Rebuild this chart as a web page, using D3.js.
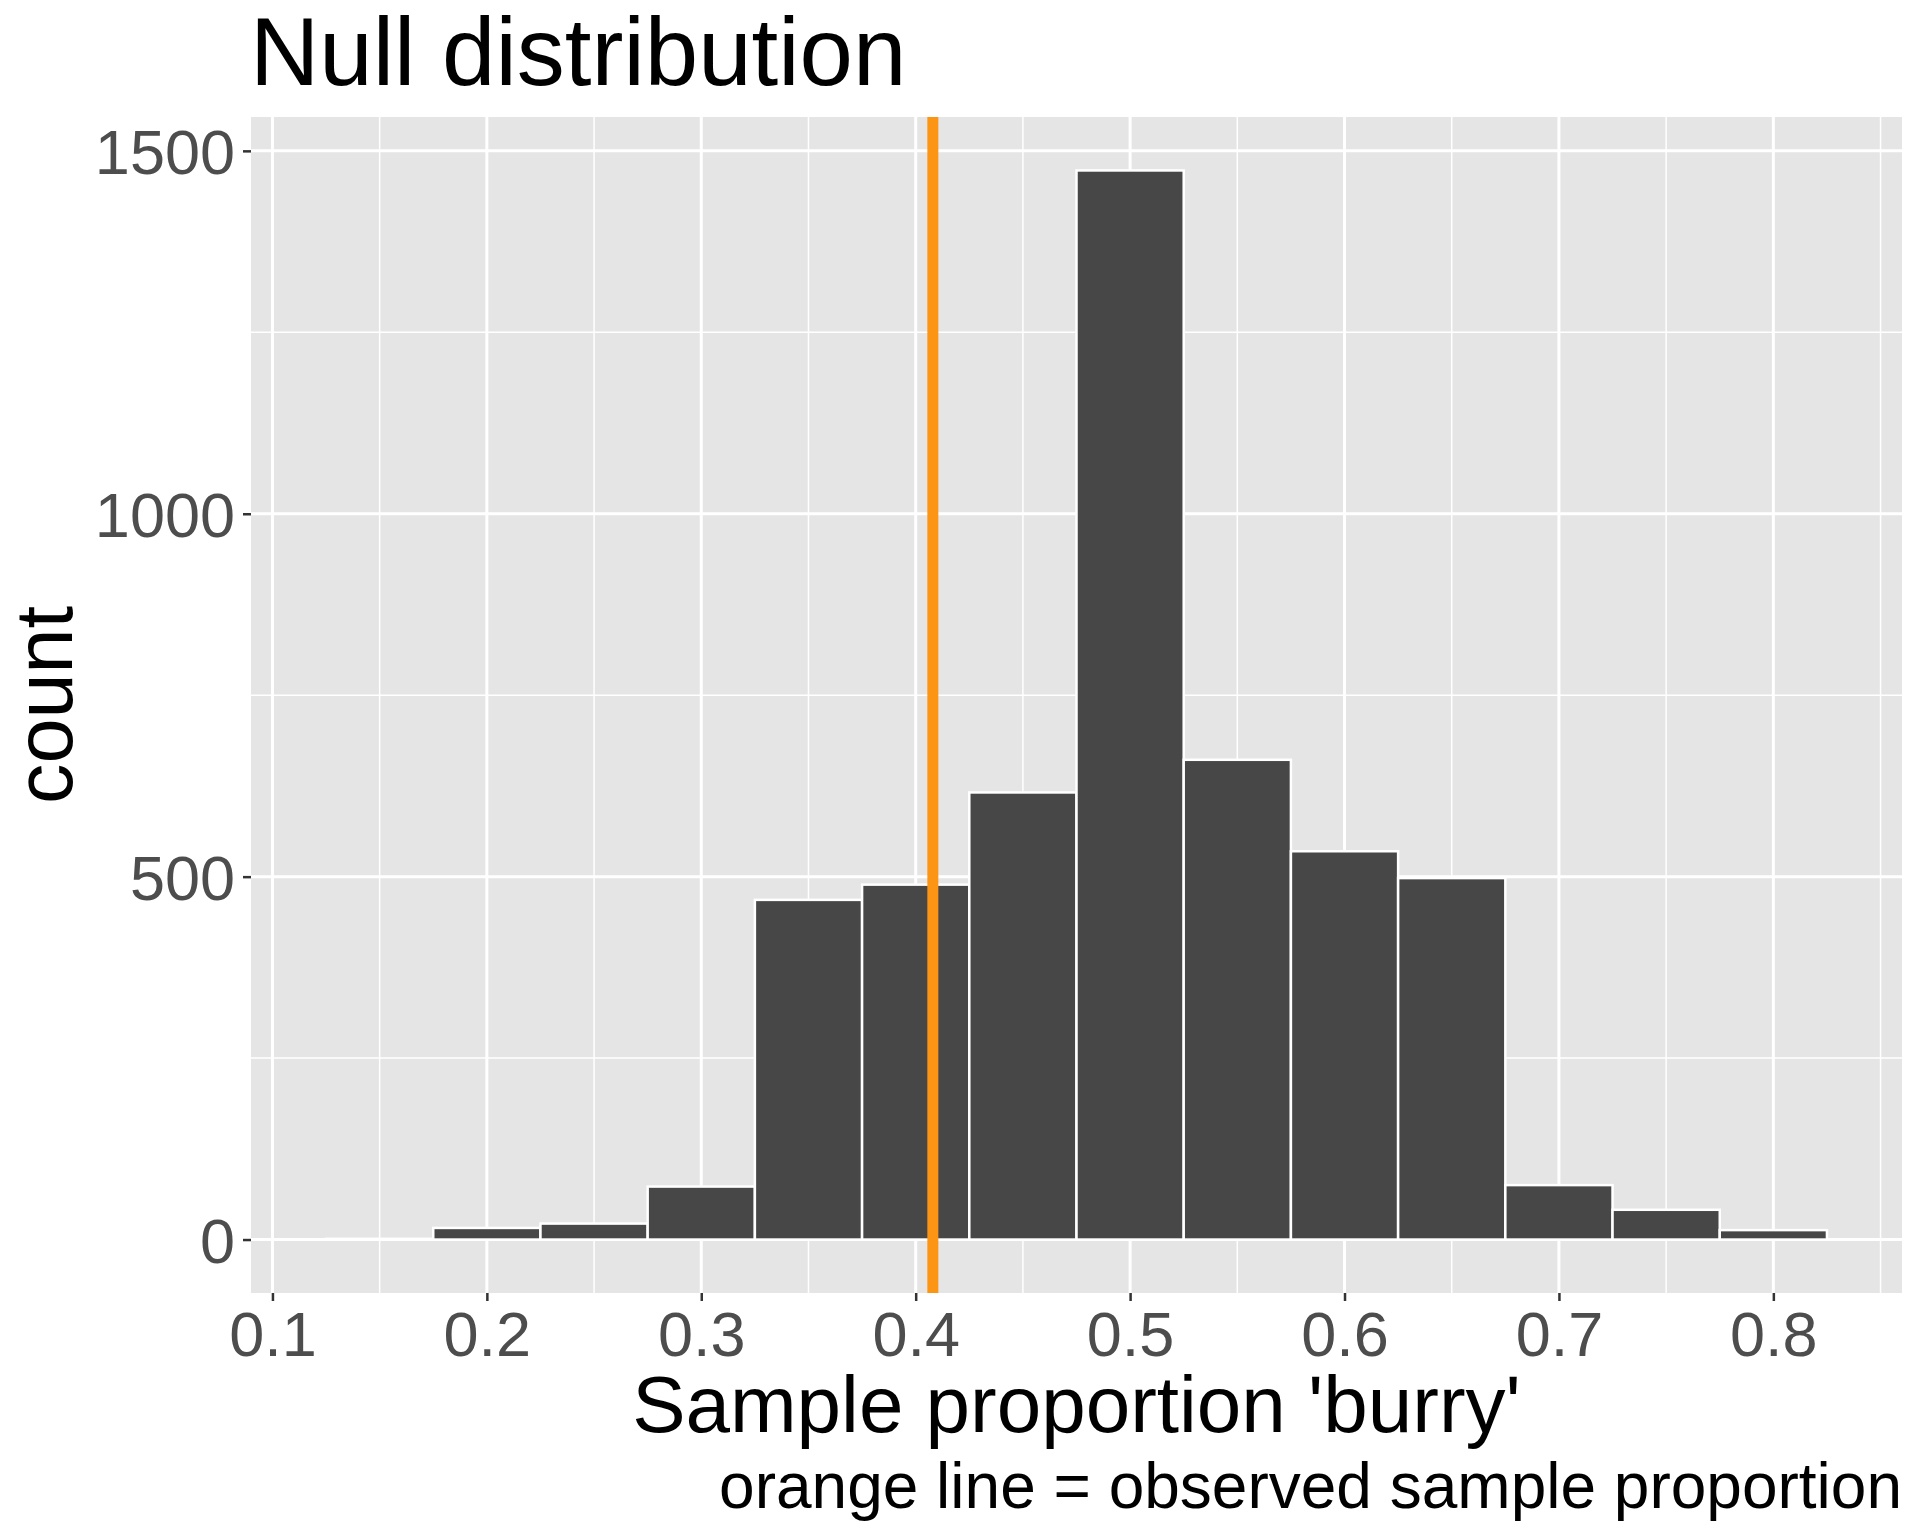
<!DOCTYPE html>
<html>
<head>
<meta charset="utf-8">
<script src="https://cdn.jsdelivr.net/npm/d3@7"></script>
<style>
  body { margin: 0; background: #fff; }
  text { font-family: 'Liberation Sans', Arial, sans-serif; }
</style>
</head>
<body>
<script>
'use strict';

// bin centres (binwidth 0.05) and counts
const binCenters = [0.15, 0.2, 0.25, 0.3, 0.35, 0.4, 0.45, 0.5, 0.55, 0.6, 0.65, 0.7, 0.75, 0.8];
const binCounts = [1, 16, 22, 73, 468, 489, 616, 1473, 661, 535, 498, 75, 41, 13];
const binWidth = 0.05;

const observed = 0.408;

const xTicks = [0.1, 0.2, 0.3, 0.4, 0.5, 0.6, 0.7, 0.8];
const xMinor = [0.15, 0.25, 0.35, 0.45, 0.55, 0.65, 0.75, 0.85];
const yTicks = [0, 500, 1000, 1500];
const yMinor = [250, 750, 1250];

const titleText = 'Null distribution';
const xTitle = 'Sample proportion \'burry\'';
const yTitle = 'count';
const captionText = 'orange line = observed sample proportion';

const width = 1920;
const height = 1536;
const panel = {left: 251, right: 1902, top: 117, bottom: 1293};

const bins = binCenters.map((c, i) => ({x0: c - binWidth / 2, x1: c + binWidth / 2, n: binCounts[i]}));

// ggplot style 5% expansion around data
const xLo = d3.min(bins, d => d.x0);
const xHi = d3.max(bins, d => d.x1);
const xPad = (xHi - xLo) * 0.05;
const yMax = d3.max(binCounts);
const yPad = yMax * 0.05;

const xScale = d3.scaleLinear()
  .domain([xLo - xPad, xHi + xPad])
  .range([panel.left, panel.right]);

const yScale = d3.scaleLinear()
  .domain([-yPad, yMax + yPad])
  .range([panel.bottom, panel.top]);

const svg = d3.select('body').append('svg')
  .attr('width', width)
  .attr('height', height);

svg.append('rect')
  .attr('x', panel.left)
  .attr('y', panel.top)
  .attr('width', panel.right - panel.left)
  .attr('height', panel.bottom - panel.top)
  .attr('fill', '#e5e5e5');

const grid = svg.append('g');

grid.selectAll('.xminor')
  .data(xMinor.filter(v => xScale(v) < panel.right))
  .enter().append('line')
  .attr('x1', d => xScale(d)).attr('x2', d => xScale(d))
  .attr('y1', panel.top).attr('y2', panel.bottom)
  .attr('stroke', '#fff').attr('stroke-width', 1.5);

grid.selectAll('.yminor')
  .data(yMinor)
  .enter().append('line')
  .attr('x1', panel.left).attr('x2', panel.right)
  .attr('y1', d => yScale(d)).attr('y2', d => yScale(d))
  .attr('stroke', '#fff').attr('stroke-width', 1.5);

grid.selectAll('.xmajor')
  .data(xTicks)
  .enter().append('line')
  .attr('x1', d => xScale(d)).attr('x2', d => xScale(d))
  .attr('y1', panel.top).attr('y2', panel.bottom)
  .attr('stroke', '#fff').attr('stroke-width', 3);

grid.selectAll('.ymajor')
  .data(yTicks)
  .enter().append('line')
  .attr('x1', panel.left).attr('x2', panel.right)
  .attr('y1', d => yScale(d)).attr('y2', d => yScale(d))
  .attr('stroke', '#fff').attr('stroke-width', 3);

svg.append('g')
  .selectAll('rect')
  .data(bins)
  .enter()
  .append('rect')
  .attr('x', d => xScale(d.x0))
  .attr('width', d => xScale(d.x1) - xScale(d.x0))
  .attr('y', d => yScale(d.n))
  .attr('height', d => yScale(0) - yScale(d.n))
  .attr('fill', '#474747')
  .attr('stroke', '#fff')
  .attr('stroke-width', 2.5);

svg.append('line')
  .attr('x1', xScale(observed)).attr('x2', xScale(observed))
  .attr('y1', panel.top).attr('y2', panel.bottom)
  .attr('stroke', '#fd9514')
  .attr('stroke-width', 11);

// axes
const xAxisGenerator = d3.axisBottom(xScale)
  .tickValues(xTicks)
  .tickFormat(d3.format('.1f'))
  .tickSize(8)
  .tickPadding(10);

const yAxisGenerator = d3.axisLeft(yScale)
  .tickValues(yTicks)
  .tickFormat(d3.format('d'))
  .tickSize(8)
  .tickPadding(8);

const xAxis = svg.append('g')
  .attr('transform', 'translate(0, ' + panel.bottom + ')')
  .call(xAxisGenerator);

const yAxis = svg.append('g')
  .attr('transform', 'translate(' + panel.left + ', 0)')
  .call(yAxisGenerator);

[xAxis, yAxis].forEach(ax => {
  ax.select('.domain').remove();
  ax.selectAll('.tick line').attr('stroke', '#333').attr('stroke-width', 2.5);
  ax.selectAll('.tick text')
    .attr('fill', '#4d4d4d')
    .style('font-size', '63px')
    .style('font-family', "'Liberation Sans', Arial, sans-serif");
});

xAxis.selectAll('.tick text').attr('dy', '0.71em');
yAxis.selectAll('.tick text').attr('dy', '0.36em');

svg.append('text')
  .attr('x', 250)
  .attr('y', 85)
  .style('font-size', '96px')
  .attr('fill', '#000')
  .text(titleText);

svg.append('text')
  .attr('x', (panel.left + panel.right) / 2)
  .attr('y', 1432)
  .attr('text-anchor', 'middle')
  .style('font-size', '80px')
  .attr('fill', '#000')
  .text(xTitle);

svg.append('text')
  .attr('transform', 'translate(72, ' + ((panel.top + panel.bottom) / 2) + ') rotate(-90)')
  .attr('text-anchor', 'middle')
  .style('font-size', '81px')
  .attr('fill', '#000')
  .text(yTitle);

svg.append('text')
  .attr('x', panel.right)
  .attr('y', 1508)
  .attr('text-anchor', 'end')
  .style('font-size', '64px')
  .attr('fill', '#000')
  .text(captionText);
</script>
</body>
</html>
